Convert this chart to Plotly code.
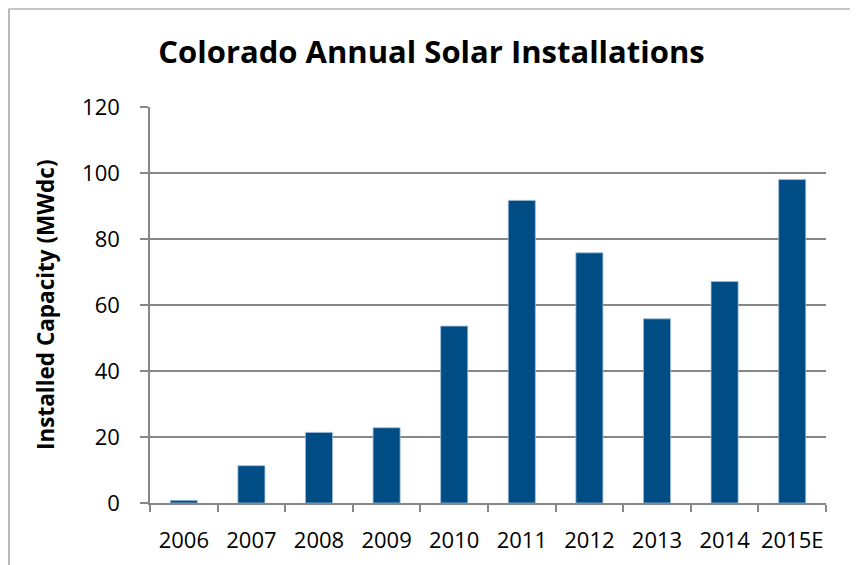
import plotly.graph_objects as go

years = ["2006", "2007", "2008", "2009", "2010", "2011", "2012", "2013", "2014", "2015E"]
capacity = [0.8, 11.3, 21.4, 22.8, 53.6, 91.7, 75.8, 55.8, 67.1, 98.0]
y_ticks = [0, 20, 40, 60, 80, 100, 120]

FONT = "Open Sans"
GREY = "#878787"

# page body has an 8px offset; figure coordinates below are screen - 8
W, H = 850, 557
L, T = 142, 99
PW, PH = 676, 396

fig = go.Figure()
fig.add_trace(go.Bar(
    x=years, y=capacity,
    marker=dict(color="#004C85", line=dict(color="#9dbbd6", width=0.8)),
    hoverinfo="x+y",
))

fig.update_layout(
    width=W, height=H,
    margin=dict(l=L, r=W - L - PW, t=T, b=H - T - PH, pad=0, autoexpand=False),
    paper_bgcolor="white", plot_bgcolor="white",
    bargap=0.6,
    showlegend=False,
    font=dict(family=FONT, color="black"),
    title=dict(
        text="<b>Colorado Annual Solar Installations</b>",
        x=(431.5 - 8) / W, xref="container", xanchor="center",
        y=1 - (52 - 8) / H, yref="container", yanchor="middle",
        font=dict(family=FONT, size=31, color="black"),
    ),
    xaxis=dict(
        type="category", automargin=False, tickangle=0,
        showline=True, linecolor=GREY, linewidth=1.5,
        ticks="outside", tickson="boundaries", ticklen=7, tickcolor=GREY, tickwidth=1.5,
        tickfont=dict(family=FONT, size=22, color="black"),
        ticklabelstandoff=17,
        showgrid=False,
    ),
    yaxis=dict(
        range=[0, 120], tickvals=y_ticks, automargin=False,
        showline=True, linecolor=GREY, linewidth=1.5,
        ticks="outside", ticklen=8, tickcolor=GREY, tickwidth=1.5,
        showgrid=True, gridcolor=GREY, gridwidth=1.5,
        tickfont=dict(family=FONT, size=22, color="black"),
        ticklabelstandoff=16,
        zeroline=False,
    ),
    annotations=[dict(
        text="<b>Installed Capacity (MWdc)</b>",
        xref="paper", yref="paper",
        x=(45 - 150) / PW, y=0.5,
        xanchor="center", yanchor="middle",
        textangle=-90, showarrow=False,
        font=dict(family=FONT, size=22.5, color="black"),
    )],
    shapes=[dict(
        type="rect", xref="paper", yref="paper",
        x0=(9 - 150) / PW, x1=(852 - 150) / PW,
        y0=(503 - 580) / PH, y1=(503 - 9) / PH,
        line=dict(color="#8c8c8c", width=1.2),
        fillcolor="rgba(0,0,0,0)", layer="below",
    )],
)

fig.write_html("out.html")
